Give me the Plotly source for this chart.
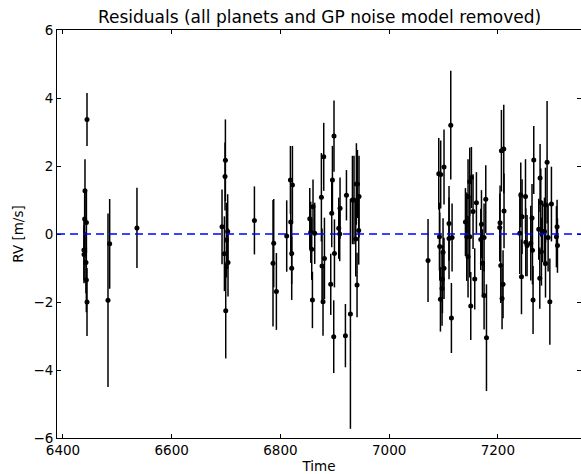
import plotly.graph_objects as go

time = [
    6444.2, 6440.5, 6443.1, 6439.9, 6438.6, 6438.7, 6442.3, 6443.0, 6444.2,
    6482.8, 6485.9,
    6536.1,
    6698.8, 6698.1, 6692.6, 6703.0, 6700.7, 6697.0, 6703.6, 6699.4,
    6752.2,
    6787.7, 6786.4, 6792.6,
    6811.6, 6818.4, 6822.1, 6819.0, 6820.8, 6820.8,
    6855.8, 6858.9, 6860.0, 6863.1, 6854.0, 6857.6,
    6875.4, 6879.7, 6876.6, 6878.4, 6881.0,
    6898.6, 6895.7, 6894.4, 6899.4, 6892.6, 6898.1,
    6907.3, 6909.1, 6909.7, 6921.5, 6919.6, 6928.8,
    6932.5, 6935.4, 6939.8, 6941.7, 6944.6, 6938.6, 6944.1, 6941.0,
    7071.6,
    7091.3, 7094.9, 7101.0, 7113.4, 7092.6, 7093.1, 7099.2, 7101.0, 7098.1,
    7097.4, 7094.4, 7110.2, 7110.2, 7115.8, 7114.6,
    7140.4, 7142.8, 7145.2, 7148.3, 7151.4, 7154.4, 7160.6, 7150.2, 7157.5,
    7148.3, 7145.2,
    7169.9, 7168.6, 7174.7, 7177.8, 7174.7, 7179.1, 7171.7,
    7206.6, 7210.9, 7211.4, 7204.1, 7203.5, 7205.4, 7209.6, 7207.8,
    7242.2, 7244.6, 7240.4, 7243.5, 7250.9, 7251.4, 7253.8,
    7266.1, 7262.9, 7263.7, 7264.8, 7260.6,
    7277.7, 7279.0, 7275.3, 7282.1, 7285.8, 7287.7, 7290.6, 7292.5, 7287.7,
    7277.2, 7295.7, 7298.6, 7280.2,
    7309.0, 7307.8, 7309.7,
]

rv = [
    3.37, 1.27, 0.34, 0.44, -0.47, -0.60, -0.84, -1.35, -2.00,
    -1.95, -0.29,
    0.18,
    2.17, 1.69, 0.21, 0.07, -0.18, -0.58, -0.84, -2.26,
    0.40,
    -0.27, -0.86, -1.69,
    -0.06, 1.59, 1.44, 0.35, -0.57, -1.01,
    0.05, -1.94, 0.80, 0.02, 0.45, -0.45,
    1.08, 2.27, -0.94, -1.99, -0.72,
    2.88, 1.59, 0.61, -0.57, -1.48, -3.02,
    0.17, 0.00, 0.76, 1.14, -2.99, -2.35,
    1.00, 1.00, 1.47, 1.47, 1.10, -0.15, 0.10, -1.50,
    -0.78,
    1.77, 1.75, 1.97, 3.20, -0.08, -0.37, -0.54, -1.01, -1.33,
    -1.60, -1.92, 0.31, -0.13, -0.10, -2.47,
    0.35, -0.08, -0.67, 1.54, 1.66, 0.66, 0.92, -2.12, -1.32,
    -0.08, 1.10,
    0.29, -0.16, -0.10, 1.02, -1.81, -3.05, -0.86,
    2.45, 2.50, 0.68, 0.33, 0.19, -0.93, -1.48, -1.90,
    1.15, 0.51, 0.02, -1.26, 1.10, -0.24, -0.34,
    2.18, 0.47, -0.48, -1.94, -0.27,
    1.65, 0.93, 0.14, 0.07, 0.07, 0.85, 2.11, -0.10, -0.87,
    -1.30, -1.99, 0.88, -0.52,
    0.21, -0.08, -0.34,
]

rv_err = [
    0.78, 0.93, 0.90, 0.85, 0.90, 0.85, 0.90, 0.95, 1.00,
    2.55, 1.32,
    1.18,
    1.20, 1.00, 1.10, 1.10, 1.10, 1.10, 1.00, 1.40,
    1.00,
    1.30, 1.86, 1.13,
    1.05, 1.00, 1.15, 1.00, 0.90, 0.93,
    0.90, 0.83, 0.80, 0.90, 0.90, 0.90,
    1.30, 1.00, 1.10, 1.00, 1.20,
    1.05, 1.00, 1.00, 1.00, 0.90, 1.07,
    0.90, 0.80, 0.90, 0.74, 0.93, 3.38,
    1.30, 1.30, 1.20, 1.00, 1.20, 1.10, 1.00, 0.95,
    1.22,
    1.05, 1.00, 1.10, 1.60, 1.00, 1.00, 1.00, 0.90, 1.00,
    1.10, 0.95, 1.10, 1.20, 1.00, 1.03,
    1.00, 1.30, 1.20, 1.00, 0.90, 1.10, 0.90, 1.00, 0.90,
    1.20, 1.10,
    1.00, 0.90, 1.00, 1.00, 1.00, 1.57, 1.00,
    1.20, 1.30, 1.10, 1.10, 1.00, 1.10, 1.00, 0.90,
    0.95, 1.10, 1.20, 1.10, 1.10, 1.00, 0.90,
    1.00, 1.00, 1.00, 1.00, 1.10,
    1.00, 1.00, 0.90, 0.90, 1.00, 1.10, 1.80, 1.00, 1.00,
    0.90, 1.27, 1.10, 1.00,
    0.80, 0.90, 0.80,
]

x_ticks = [6400, 6600, 6800, 7000, 7200]
y_ticks = [-6, -4, -2, 0, 2, 4, 6]
x_range = [6389, 7353]
y_range = [-6, 6]
title_text = "Residuals (all planets and GP noise model removed)"
x_label = "Time"
y_label = "RV [m/s]"

FONT = "DejaVu Sans, sans-serif"

fig = go.Figure()
fig.add_trace(go.Scatter(
    x=time, y=rv, mode="markers",
    marker=dict(color="black", size=5, line=dict(width=0)),
    error_y=dict(type="data", array=rv_err, visible=True,
                 color="black", thickness=1.5, width=0),
    showlegend=False,
))
fig.add_shape(type="line", xref="paper", x0=0, x1=1, yref="y", y0=0, y1=0,
              line=dict(color="blue", width=1.5, dash="8px,5px"))

axis_common = dict(
    showgrid=False, zeroline=False, showline=True, linecolor="black",
    linewidth=1, mirror="ticks", ticks="inside", ticklen=4, tickwidth=1,
    tickcolor="black", tickfont=dict(family=FONT, size=13.5, color="black"),
)
fig.update_xaxes(range=x_range, tickvals=x_ticks,
                 ticktext=[str(v) for v in x_ticks],
                 title=dict(text=x_label, font=dict(family=FONT, size=13.5, color="black"),
                            standoff=4),
                 **axis_common)
fig.update_yaxes(range=y_range, tickvals=y_ticks,
                 ticktext=[str(v).replace("-", "\u2212") for v in y_ticks],
                 title=dict(text=y_label, font=dict(family=FONT, size=13.5, color="black"),
                            standoff=6),
                 **axis_common)
fig.update_layout(
    width=581, height=474,
    margin=dict(l=57, r=0, t=30, b=36),
    paper_bgcolor="white", plot_bgcolor="white",
    title=dict(text=title_text, x=0.55, xanchor="center", y=0.964, yanchor="middle",
               font=dict(family=FONT, size=17, color="black")),
    font=dict(family=FONT, color="black"),
)
fig.write_html("out.html",
               config={"displayModeBar": False},
               post_script="document.body.style.margin='0';document.body.style.overflow='hidden';")
